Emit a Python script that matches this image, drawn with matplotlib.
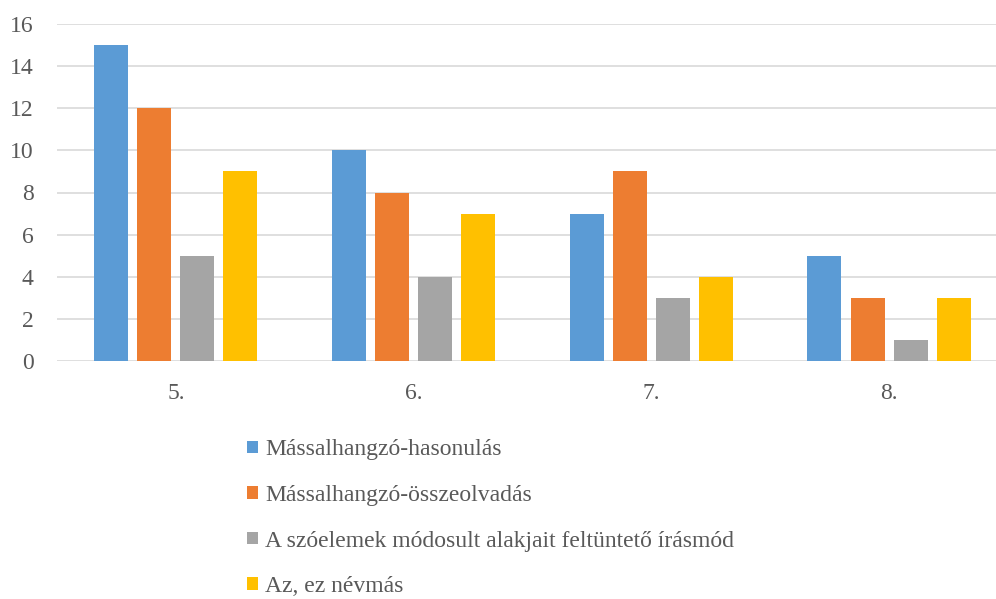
import matplotlib.pyplot as plt
import numpy as np

plt.rcParams['font.family'] = ['Liberation Serif', 'DejaVu Serif']

# grades on the x axis
grades = ['5.', '6.', '7.', '8.']

# counts per category
hasonulas = [15, 10, 7, 5]
osszeolvadas = [12, 8, 9, 3]
szoelemek = [5, 4, 3, 1]
nevmas = [9, 7, 4, 3]

series_names = ['Mássalhangzó-hasonulás',
                'Mássalhangzó-összeolvadás',
                'A szóelemek módosult alakjait feltüntető írásmód',
                'Az, ez névmás']
colors = ['#5B9BD5', '#ED7D31', '#A5A5A5', '#FFC000']
text_color = '#595959'

fig = plt.figure(figsize=(9.96, 5.99), dpi=100)
ax = fig.add_axes([57 / 996, 1 - 361 / 599, 1 - 57 / 996, (361 - 24) / 599])

x = np.arange(len(grades))
width = 0.143
step = 0.181
all_series = [hasonulas, osszeolvadas, szoelemek, nevmas]
for i, vals in enumerate(all_series):
    offset = (i - 1.5) * step
    ax.bar(x + offset, vals, width, color=colors[i], label=series_names[i], zorder=3)

ax.set_xlim(-0.5, 3.45)
ax.set_ylim(0, 16)
ax.set_yticks(range(0, 17, 2))
ax.set_xticks(x)
ax.set_xticklabels(grades)
ax.grid(axis='y', color='#D9D9D9', linewidth=1.2, zorder=0)
for s in ax.spines.values():
    s.set_visible(False)
ax.tick_params(length=0, labelsize=17, colors=text_color)
ax.tick_params(axis='x', pad=16)
ax.tick_params(axis='y', pad=17)

leg = fig.legend(loc='upper left', bbox_to_anchor=(238 / 996, 1 - 430 / 599),
                 frameon=False, fontsize=17, handlelength=0.45, handleheight=0.45,
                 handletextpad=0.3, labelspacing=1.04, borderaxespad=0)
for t in leg.get_texts():
    t.set_color(text_color)

fig.savefig('out.png', dpi=100)
